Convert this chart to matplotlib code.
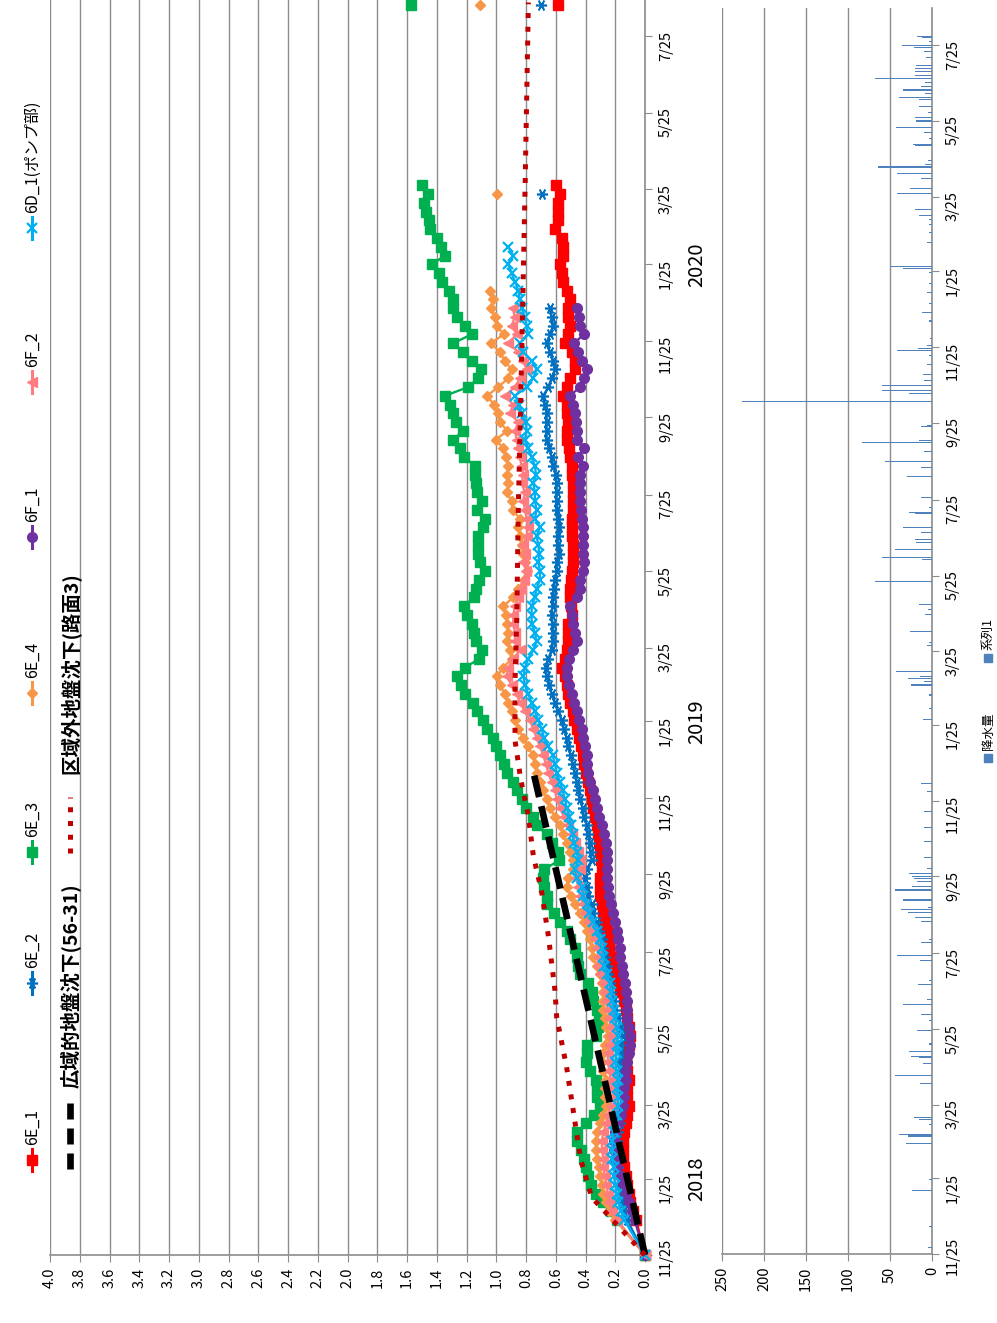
import numpy as np
import pandas as pd
import matplotlib
matplotlib.use("Agg")
import matplotlib.pyplot as plt
import matplotlib.dates as mdates
from matplotlib.lines import Line2D
from matplotlib.patches import Rectangle
from matplotlib import transforms
from matplotlib.ticker import FuncFormatter, FixedLocator

plt.rcParams['font.family'] = ['Noto Sans CJK JP', 'DejaVu Sans']

nan = np.nan

# ---------------- data ----------------
# measurement dates: origin, weekly readings, one late reading
measure_dates = (['2017-11-25']
                 + [d.strftime('%Y-%m-%d') for d in pd.date_range('2017-12-23', '2020-03-28', freq='7D')]
                 + ['2020-08-19'])

s_6E_1 = [0.0,
          0.06, 0.08, 0.10, 0.11, 0.12, 0.13, 0.14, 0.15, 0.15, 0.15, 0.14, 0.13, 0.12,
          0.11, 0.12, 0.12, 0.11, 0.12, 0.13, 0.12, 0.11, 0.10, 0.11, 0.12, 0.13, 0.14,
          0.168, 0.179, 0.202, 0.224, 0.231, 0.240, 0.247, 0.258, 0.269, 0.280,
          0.291, 0.303, 0.303, 0.303, 0.291, 0.296, 0.303, 0.307, 0.314, 0.325,
          0.336, 0.348, 0.359, 0.370, 0.381, 0.397, 0.410, 0.419, 0.433, 0.442,
          0.460, 0.478, 0.487, 0.505, 0.516, 0.527, 0.538, 0.561, 0.538, 0.527,
          0.516, 0.516, 0.516,
          0.493, 0.500, 0.505, 0.505, 0.500, 0.493, 0.482, 0.482, 0.487, 0.493,
          0.493, 0.493, 0.482, 0.482, 0.487, 0.487, 0.493, 0.493, 0.505, 0.509,
          0.527, 0.527, 0.516, 0.527, 0.527, 0.549, 0.527, 0.505, 0.471, 0.471,
          0.493, 0.538, 0.516, 0.505, 0.516, 0.516, 0.505, 0.527, 0.549, 0.561,
          0.572, 0.549, 0.549, 0.561, 0.605, 0.583, 0.583, 0.583, 0.572, 0.599,
          0.585]

s_6E_2 = [0.0,
          0.12, 0.14, 0.15, 0.16, 0.17, 0.17, 0.18, 0.18, 0.19, 0.19, 0.18, 0.17, 0.16,
          0.15, 0.15, 0.16, 0.15, 0.16, 0.17, 0.16, 0.16, 0.15, 0.16, 0.18, 0.20, 0.21,
          0.231, 0.235, 0.247, 0.258, 0.269, 0.280, 0.291, 0.307, 0.325, 0.348,
          0.359, 0.381, 0.392, 0.404, 0.392, 0.359, 0.365, 0.370, 0.381, 0.392,
          0.410, 0.419, 0.437, 0.448, 0.460, 0.471, 0.487, 0.500, 0.516, 0.527,
          0.545, 0.561, 0.583, 0.605, 0.628, 0.643, 0.661, 0.666, 0.650, 0.628,
          0.617, 0.617, 0.621,
          0.628, 0.621, 0.617, 0.612, 0.605, 0.594, 0.590, 0.576, 0.583, 0.583,
          0.576, 0.583, 0.590, 0.594, 0.594, 0.594, 0.599, 0.617, 0.628, 0.643,
          0.661, 0.661, 0.661, 0.661, 0.673, 0.684, 0.650, 0.628, 0.605, 0.617,
          0.639, 0.661, 0.639, 0.617, 0.628, 0.639, nan, nan, nan, nan,
          nan, nan, nan, nan, nan, nan, nan, nan, 0.694, nan,
          0.70]

s_6E_3 = [0.0,
          0.19, 0.23, 0.28, 0.33, 0.36, 0.38, 0.40, 0.41, 0.43, 0.455, 0.455, 0.40, 0.34,
          0.30, 0.32, 0.325, 0.33, 0.37, 0.40, 0.39, 0.39, 0.33, 0.315, 0.31, 0.32, 0.35,
          0.359, 0.381, 0.437, 0.448, 0.460, 0.471, 0.505, 0.527, 0.572, 0.612,
          0.657, 0.661, 0.679, 0.684, 0.679, 0.576, 0.583, 0.628, 0.661, 0.729,
          0.756, 0.800, 0.830, 0.859, 0.886, 0.926, 0.948, 0.975, 1.002, 1.025,
          1.061, 1.092, 1.132, 1.155, 1.211, 1.240, 1.267, 1.211, 1.114, 1.099,
          1.137, 1.150, 1.166,
          1.200, 1.218, 1.150, 1.137, 1.114, 1.076, 1.110, 1.121, 1.121, 1.121,
          1.087, 1.076, 1.128, 1.099, 1.128, 1.137, 1.143, 1.143, 1.218, 1.244,
          1.289, 1.222, 1.271, 1.289, 1.312, 1.345, 1.188, 1.121, 1.105, 1.166,
          1.222, 1.289, 1.166, 1.211, 1.267, 1.289, 1.294, 1.316, 1.368, 1.383,
          1.430, 1.345, 1.374, 1.401, 1.446, 1.451, 1.469, 1.487, 1.457, 1.502,
          1.573]

s_6E_4 = [0.0,
          0.20, 0.24, 0.26, 0.28, 0.29, 0.30, 0.31, 0.32, 0.33, 0.33, 0.32, 0.30, 0.28,
          0.26, 0.27, 0.27, 0.26, 0.28, 0.29, 0.28, 0.27, 0.25, 0.26, 0.27, 0.28, 0.28,
          0.280, 0.291, 0.303, 0.325, 0.348, 0.359, 0.370, 0.388, 0.410, 0.437,
          0.471, 0.500, 0.527, 0.516, 0.482, 0.482, 0.505, 0.527, 0.549, 0.572,
          0.605, 0.639, 0.661, 0.684, 0.706, 0.729, 0.740, 0.756, 0.785, 0.818,
          0.852, 0.874, 0.897, 0.919, 0.942, 0.975, 0.998, 0.953, 0.897, 0.908,
          0.930, 0.919, 0.930,
          0.935, 0.953, 0.886, 0.852, 0.814, 0.796, 0.807, 0.818, 0.830, 0.841,
          0.852, 0.841, 0.890, 0.897, 0.930, 0.919, 0.926, 0.919, 0.935, 0.953,
          1.002, 0.926, 0.975, 0.987, 1.016, 1.061, 0.987, 0.919, 0.897, 0.942,
          0.975, 1.038, 0.948, 0.998, 1.009, 1.038, 1.020, 1.043, nan, nan,
          nan, nan, nan, nan, nan, nan, nan, nan, 0.995, nan,
          1.109]

s_6F_1 = [0.0,
          0.07, 0.09, 0.11, 0.13, 0.15, 0.17, 0.19, 0.20, 0.21, 0.21, 0.20, 0.18, 0.16,
          0.15, 0.14, 0.14, 0.13, 0.13, 0.12, 0.11, 0.10, 0.10, 0.11, 0.12, 0.12, 0.12,
          0.128, 0.135, 0.150, 0.157, 0.168, 0.168, 0.179, 0.191, 0.202, 0.213,
          0.231, 0.240, 0.247, 0.258, 0.253, 0.253, 0.258, 0.262, 0.276, 0.291,
          0.307, 0.321, 0.336, 0.352, 0.370, 0.381, 0.388, 0.392, 0.404, 0.415,
          0.426, 0.442, 0.460, 0.478, 0.493, 0.509, 0.522, 0.527, 0.509, 0.482,
          0.460, 0.471, 0.487,
          0.493, 0.505, 0.460, 0.437, 0.437, 0.415, 0.410, 0.415, 0.415, 0.419,
          0.415, 0.426, 0.433, 0.437, 0.437, 0.437, 0.437, 0.415, 0.448, 0.410,
          0.460, 0.460, 0.464, 0.471, 0.482, 0.505, 0.437, 0.410, 0.388, 0.426,
          0.448, 0.478, 0.410, 0.437, 0.442, 0.455, nan, nan, nan, nan,
          nan, nan, nan, nan, nan, nan, nan, nan, nan, nan,
          nan]

s_6F_2 = [0.0,
          0.19, 0.22, 0.24, 0.25, 0.26, 0.27, 0.28, 0.28, 0.29, 0.29, 0.28, 0.26, 0.25,
          0.23, 0.23, 0.24, 0.23, 0.24, 0.25, 0.25, 0.24, 0.23, 0.23, 0.24, 0.25, 0.26,
          0.269, 0.280, 0.303, 0.314, 0.314, 0.321, 0.336, 0.359, 0.381, 0.404,
          0.419, 0.437, 0.448, 0.464, 0.437, 0.437, 0.448, 0.471, 0.493, 0.516,
          0.545, 0.572, 0.594, 0.605, 0.628, 0.650, 0.666, 0.684, 0.706, 0.729,
          0.751, 0.774, 0.807, 0.841, 0.863, 0.897, 0.930, 0.919, 0.886, 0.841,
          0.874, 0.874, 0.886,
          0.886, 0.874, 0.852, 0.836, 0.814, 0.800, 0.818, 0.807, 0.818, 0.796,
          0.785, 0.796, 0.807, 0.818, 0.807, 0.830, 0.818, 0.830, 0.841, 0.852,
          0.863, 0.874, 0.852, 0.908, 0.886, 0.942, 0.874, 0.841, 0.796, 0.818,
          0.852, 0.919, 0.863, 0.897, 0.874, 0.890, nan, nan, nan, nan,
          nan, nan, nan, nan, nan, nan, nan, nan, nan, nan,
          nan]

s_6D_1 = [0.0,
          0.14, 0.16, 0.18, 0.19, 0.20, 0.21, 0.21, 0.22, 0.22, 0.22, 0.21, 0.20, 0.19,
          0.18, 0.18, 0.19, 0.18, 0.19, 0.20, 0.19, 0.19, 0.18, 0.19, 0.20, 0.21, 0.22,
          0.231, 0.235, 0.258, 0.276, 0.280, 0.291, 0.303, 0.325, 0.348, 0.374,
          0.392, 0.415, 0.426, 0.460, 0.471, 0.448, 0.460, 0.478, 0.487, 0.500,
          0.509, 0.527, 0.538, 0.554, 0.572, 0.594, 0.605, 0.621, 0.650, 0.679,
          0.695, 0.717, 0.740, 0.762, 0.785, 0.807, 0.818, 0.807, 0.785, 0.751,
          0.729, 0.740, 0.762,
          0.762, 0.762, 0.740, 0.729, 0.706, 0.706, 0.717, 0.711, 0.717, 0.729,
          0.706, 0.740, 0.729, 0.740, 0.740, 0.751, 0.733, 0.740, 0.762, 0.785,
          0.807, 0.796, 0.800, 0.830, 0.845, 0.874, 0.796, 0.751, 0.729, 0.762,
          0.818, 0.841, 0.785, 0.796, 0.807, 0.830, 0.841, 0.852, 0.874, 0.897,
          0.919, 0.886, 0.919, nan, nan, nan, nan, nan, nan, nan,
          nan]

# reference subsidence lines
wide_dates = ['2017-11-25', '2018-12-18']
wide_vals = [0.0, 0.755]

outer_dates = ['2017-11-25', '2018-01-10', '2018-02-09', '2018-03-02', '2018-04-24',
               '2018-06-03', '2018-06-24', '2018-08-07', '2018-09-11', '2018-10-10',
               '2018-11-11', '2018-12-10', '2019-01-10', '2019-02-25', '2019-04-19',
               '2019-07-18', '2019-10-06', '2019-12-25', '2020-04-03', '2020-08-21']
outer_vals = [0.0, 0.358, 0.432, 0.459, 0.527, 0.594, 0.605, 0.650, 0.695, 0.751,
              0.785, 0.836, 0.874, 0.874, 0.862, 0.851, 0.836, 0.822, 0.805, 0.784]

# daily precipitation (mm)
rain_dates = ['2017-11-30', '2017-12-17', '2018-01-15', '2018-01-24', '2018-02-22', '2018-02-28',
              '2018-03-01', '2018-03-09', '2018-03-13', '2018-03-15', '2018-04-11', '2018-04-18',
              '2018-04-27', '2018-05-02', '2018-05-03', '2018-05-07', '2018-05-13', '2018-05-24',
              '2018-06-01', '2018-06-06', '2018-06-14', '2018-06-18', '2018-06-30', '2018-07-03',
              '2018-07-19', '2018-07-23', '2018-08-03', '2018-08-05', '2018-08-20', '2018-08-23',
              '2018-08-27', '2018-08-29', '2018-08-31', '2018-09-06', '2018-09-14', '2018-09-17',
              '2018-09-21', '2018-09-23', '2018-09-25', '2018-09-27', '2018-10-01', '2018-10-10',
              '2018-10-23', '2018-11-03', '2018-11-16', '2018-12-02', '2018-12-09', '2019-01-29',
              '2019-02-07', '2019-02-18', '2019-02-26', '2019-03-01', '2019-03-03', '2019-03-05',
              '2019-03-09', '2019-03-30', '2019-04-01', '2019-04-10', '2019-04-24', '2019-04-28',
              '2019-05-02', '2019-05-20', '2019-06-07', '2019-06-09', '2019-06-15', '2019-06-21',
              '2019-06-23', '2019-06-29', '2019-07-03', '2019-07-14', '2019-07-15', '2019-07-19',
              '2019-07-27', '2019-08-13', '2019-08-20', '2019-08-25', '2019-09-02', '2019-09-09',
              '2019-09-11', '2019-09-22', '2019-09-23', '2019-10-12', '2019-10-19', '2019-10-21',
              '2019-10-25', '2019-10-29', '2019-11-03', '2019-11-11', '2019-11-18', '2019-11-22',
              '2019-11-24', '2019-11-26', '2019-12-02', '2019-12-16', '2019-12-23', '2019-12-30',
              '2020-01-08', '2020-01-15', '2020-01-24', '2020-01-27', '2020-01-29', '2020-02-17',
              '2020-02-25', '2020-03-03', '2020-03-07', '2020-03-10', '2020-03-15', '2020-03-28',
              '2020-04-01', '2020-04-09', '2020-04-13', '2020-04-18', '2020-04-20', '2020-04-23',
              '2020-05-05', '2020-05-06', '2020-05-11', '2020-05-16', '2020-05-20', '2020-05-25',
              '2020-05-28', '2020-06-01', '2020-06-06', '2020-06-11', '2020-06-13', '2020-06-16',
              '2020-06-19', '2020-06-22', '2020-06-25', '2020-06-28', '2020-07-01', '2020-07-04',
              '2020-07-06', '2020-07-09', '2020-07-15', '2020-07-20', '2020-07-23', '2020-07-25',
              '2020-07-28', '2020-07-31', '2020-08-01']
rain_mm = [5, 3, 24, 4, 31, 29,
           39, 3, 15, 21, 14, 44,
           11, 16, 25, 27, 3, 18,
           4, 13, 35, 6, 17, 3,
           14, 42, 13, 3, 13, 20,
           29, 37, 5, 35, 44, 24,
           18, 22, 24, 27, 6, 10,
           9, 9, 9, 6, 13, 11,
           3, 3, 25, 9, 28, 14,
           43, 6, 4, 26, 8, 5,
           16, 68, 12, 60, 44, 19,
           20, 13, 34, 20, 27, 3,
           13, 30, 13, 56, 9, 83,
           15, 13, 6, 226, 27, 60,
           60, 10, 11, 6, 3, 42,
           17, 6, 2, 3, 12, 3,
           6, 4, 3, 34, 50, 6,
           3, 3, 3, 16, 20, 42,
           26, 13, 42, 64, 8, 5,
           20, 23, 3, 9, 43, 19,
           20, 5, 15, 16, 39, 8,
           34, 13, 8, 68, 20, 20,
           20, 19, 7, 10, 22, 36,
           4, 12, 18]

tick_dates = ['2017-11-25', '2018-01-25', '2018-03-25', '2018-05-25', '2018-07-25',
              '2018-09-25', '2018-11-25', '2019-01-25', '2019-03-25', '2019-05-25',
              '2019-07-25', '2019-09-25', '2019-11-25', '2020-01-25', '2020-03-25',
              '2020-05-25', '2020-07-25']
year_labels = ['2018', '2019', '2020']
year_dates = ['2018-01-25', '2019-01-25', '2020-01-25']

series_names = ['6E_1', '6E_2', '6E_3', '6E_4', '6F_1', '6F_2', '6D_1(ポンプ部)']
wide_name = '広域的地盤沈下(56-31)'
outer_name = '区域外地盤沈下(路面3)'

# ---------------- helpers ----------------
def dnum(lst):
    return mdates.date2num(np.array(lst, dtype='datetime64[D]'))

W, H = 997, 1323
GRID = '#8c8c8c'

def fx(x):
    return x / W

def fy(y):
    return 1 - y / H

date_fmt = FuncFormatter(lambda v, p: f"{mdates.num2date(v).month}/{mdates.num2date(v).day}")

fig = plt.figure(figsize=(W / 100, H / 100), dpi=100)

# ---------------- settlement panel ----------------
ax = fig.add_axes([fx(50), fy(1255), fx(645) - fx(50), fy(0) - fy(1255)])
x_dates = dnum(measure_dates)

styles = [
    dict(color='#FF0000', marker='s', ms=6.5),
    dict(color='#0070C0', marker=(6, 2, 90), ms=8, mew=1.2),
    dict(color='#00B050', marker='s', ms=7.5),
    dict(color='#F79646', marker='D', ms=5),
    dict(color='#7030A0', marker='o', ms=7),
    dict(color='#FF7C80', marker='<', ms=7.5),
    dict(color='#00B0F0', marker='x', ms=6.5, mew=1.6),
]
all_series = [s_6E_1, s_6E_2, s_6E_3, s_6E_4, s_6F_1, s_6F_2, s_6D_1]
for vals, st in zip(all_series, styles):
    c = st['color']
    v = np.array(vals, dtype=float)
    kw = dict(color=c, marker=st['marker'], ms=st['ms'], mew=st.get('mew', 1.0),
              mfc=c, mec=c, clip_on=False, zorder=3)
    # weekly readings joined by lines; the late reading stands alone
    ax.plot(v[:-1], x_dates[:-1], lw=1.7, **kw)
    ax.plot(v[-1:], x_dates[-1:], ls='none', **kw)

ax.plot(wide_vals, dnum(wide_dates), color='black', lw=4.8, ls=(0, (3.3, 1.4)),
        dash_capstyle='butt', zorder=4, clip_on=False)
ax.plot(outer_vals, dnum(outer_dates), color='#C00000', lw=3.6, ls=(0, (1, 1.75)),
        dash_capstyle='butt', zorder=5, clip_on=False)

ax.set_xlim(4.0, 0.0)
ax.set_ylim(dnum(['2017-11-25'])[0], dnum(['2020-08-23'])[0])
ax.set_xticks(np.round(np.arange(0, 4.01, 0.2), 1))
ax.set_xticklabels([f'{v:.1f}' for v in np.round(np.arange(0, 4.01, 0.2), 1)])
ax.yaxis.tick_right()
ax.yaxis.set_major_locator(FixedLocator(dnum(tick_dates)))
ax.yaxis.set_major_formatter(date_fmt)
ax.tick_params(axis='x', direction='out', length=5, color=GRID, labelsize=10.5,
               labelrotation=90, pad=4)
ax.tick_params(axis='y', direction='out', length=5, color=GRID, labelsize=10.5,
               labelrotation=90, pad=5)
ax.grid(axis='x', color=GRID, lw=1.0)
ax.set_axisbelow(True)
for side in ['top', 'left']:
    ax.spines[side].set_visible(False)
for side in ['bottom', 'right']:
    ax.spines[side].set_color(GRID)
    ax.spines[side].set_linewidth(1.2)

btr = transforms.blended_transform_factory(ax.transAxes, ax.transData)
for lab, d in zip(year_labels, dnum(year_dates)):
    ax.text(1.087, d, lab, transform=btr, rotation=90, ha='center', va='center', fontsize=14.5)

# ---------------- precipitation panel ----------------
ax2 = fig.add_axes([fx(722), fy(1254), fx(932) - fx(722), fy(8) - fy(1254)])
ax2.barh(dnum(rain_dates), rain_mm, height=0.9, color='#4F81BD', lw=0, zorder=3)
ax2.set_xlim(250, 0)
ax2.set_ylim(dnum(['2017-11-25'])[0], dnum(['2020-08-24'])[0])
ax2.set_xticks([0, 50, 100, 150, 200, 250])
ax2.yaxis.tick_right()
ax2.yaxis.set_major_locator(FixedLocator(dnum(tick_dates)))
ax2.yaxis.set_major_formatter(date_fmt)
ax2.tick_params(axis='x', direction='out', length=5, color=GRID, labelsize=10.5,
                labelrotation=90, pad=4)
ax2.tick_params(axis='y', direction='out', length=5, color=GRID, labelsize=10.5,
                labelrotation=90, pad=5)
ax2.grid(axis='x', color=GRID, lw=1.0)
ax2.set_axisbelow(True)
for side in ['top', 'left']:
    ax2.spines[side].set_visible(False)
for side in ['bottom', 'right']:
    ax2.spines[side].set_color(GRID)
    ax2.spines[side].set_linewidth(1.2)

# keep the first date label inside the axis extent (as the spreadsheet does)
fig.canvas.draw()
shift = transforms.ScaledTranslation(0, 12 / 100, fig.dpi_scale_trans)
for a in (ax, ax2):
    lbl = a.yaxis.get_majorticklabels()[0]
    lbl.set_transform(lbl.get_transform() + shift)

# ---------------- legends (rotated layout) ----------------
leg_y = [1160, 983, 852, 693, 537, 382, 228]
for name, st, y in zip(series_names, styles, leg_y):
    c = st['color']
    fig.add_artist(Line2D([fx(32), fx(32)], [fy(y + 11), fy(y - 11)], color=c, lw=2.2,
                          transform=fig.transFigure))
    fig.add_artist(Line2D([fx(32)], [fy(y)], color=c, marker=st['marker'], ms=st['ms'],
                          mew=st.get('mew', 1.0), mfc=c, mec=c, transform=fig.transFigure))
    fig.text(fx(32), fy(y - 15), name, rotation=90, ha='center', va='bottom', fontsize=11.5)

fig.add_artist(Line2D([fx(70), fx(70)], [fy(1169), fy(1102)], color='black', lw=4.8,
                      ls=(0, (2.4, 1.35)), dash_capstyle='butt', transform=fig.transFigure))
fig.text(fx(70), fy(1088), wide_name, rotation=90, ha='center', va='bottom',
         fontsize=14, fontweight='bold')
fig.add_artist(Line2D([fx(70), fx(70)], [fy(853), fy(797)], color='#C00000', lw=3.6,
                      ls=(0, (1, 1.75)), dash_capstyle='butt', transform=fig.transFigure))
fig.text(fx(70), fy(774), outer_name, rotation=90, ha='center', va='bottom',
         fontsize=14, fontweight='bold')

for lab, y in [('降水量', 762), ('系列1', 662)]:
    fig.add_artist(Rectangle((fx(984), fy(y)), fx(8), fy(0) - fy(8), color='#4F81BD',
                             transform=fig.transFigure))
    fig.text(fx(988), fy(y - 12), lab, rotation=90, ha='center', va='bottom', fontsize=9)

fig.savefig('out.png', dpi=100)
